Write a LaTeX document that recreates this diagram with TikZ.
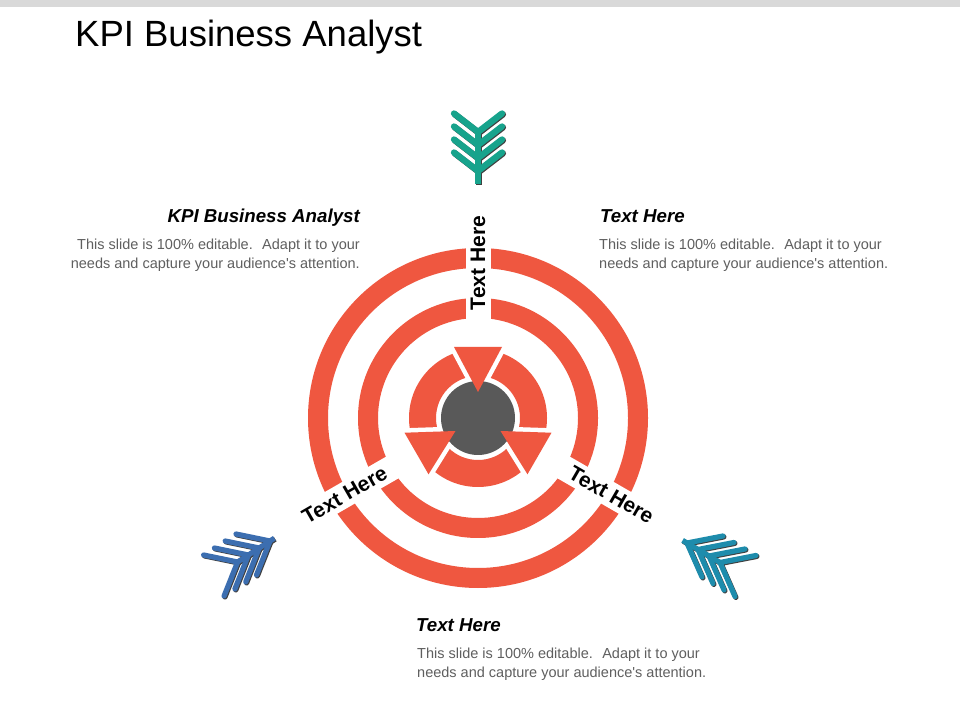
\documentclass[tikz,border=0pt]{standalone}
\usepackage{fontspec}
\setmainfont{Liberation Sans}
\usetikzlibrary{calc}
\definecolor{ringred}{RGB}{239,87,64}
\definecolor{coregray}{RGB}{89,89,89}
\definecolor{tealA}{RGB}{23,163,140}
\definecolor{blueA}{RGB}{60,110,176}
\definecolor{tealB}{RGB}{30,140,172}
\definecolor{bodygray}{RGB}{95,95,95}
\definecolor{topbar}{RGB}{217,217,217}
\newcommand\chevarrow[8]{%
  \coordinate (#1v0) at (#3);
  \coordinate (#1v1) at ($(#3)+(#4)$);
  \coordinate (#1v2) at ($(#3)+2*(#4)$);
  \coordinate (#1v3) at ($(#3)+3*(#4)$);
  \coordinate (#1tip) at ($(#3)-#7*(#4)$);
  \foreach \k in {0,...,3}{%
    \draw[chev, line width=#8, black!75] ($(#1v\k)+(#5)+(0.9,-0.9)$) -- ($(#1v\k)+(0.9,-0.9)$) -- ($(#1v\k)+(#6)+(0.9,-0.9)$);}
  \draw[chev, line width=#8, line cap=butt, black!75] ($(#1v3)+(0.9,-0.9)$) -- ($(#1tip)+(0.9,-0.9)$);
  \foreach \k in {0,...,3}{%
    \draw[chev, line width=#8, #2] ($(#1v\k)+(#5)$) -- (#1v\k) -- ($(#1v\k)+(#6)$);}
  \draw[chev, line width=#8, line cap=butt, #2] (#1v3) -- (#1tip);
}
\begin{document}
\begin{tikzpicture}[x=1pt,y=1pt,
  heading/.style={font=\fontsize{18.7}{22}\selectfont\bfseries\itshape, inner sep=0pt},
  body/.style={font=\fontsize{14.5}{19.5}\selectfont, text=bodygray, inner sep=0pt},
  ringlabel/.style={font=\fontsize{21}{25}\selectfont\bfseries, inner sep=0pt},
  chev/.style={line cap=round, line join=miter},
  ]
\useasboundingbox (0,0) rectangle (960,720);
\fill[white] (0,0) rectangle (960,720);
\fill[topbar] (0,713) rectangle (960,720);
\node[anchor=base west, font=\fontsize{36.5}{42}\selectfont, inner sep=0pt] (title) at (75,673.3) {KPI Business Analyst};

\coordinate (C) at (478,302);
% outer and middle rings
\fill[ringred, even odd rule] (C) circle[radius=170] (C) circle[radius=150]
  (C) circle[radius=120] (C) circle[radius=100];
\foreach \a in {90,210,330}{
  \begin{scope}[shift={(C)}, rotate=\a]
    \fill[white] (76,-12.5) rectangle (182,12.5);
  \end{scope}
}
% inner ring
\fill[ringred, even odd rule] (C) circle[radius=69] (C) circle[radius=42];
\foreach \a in {90,210,330}{
  \begin{scope}[shift={(C)}, rotate=\a]
    \filldraw[white, line width=9pt, line join=miter] (71,-24) -- (71,24) -- (26,0) -- cycle;
  \end{scope}
}
\fill[coregray] (C) circle[radius=37];
\foreach \a in {90,210,330}{
  \begin{scope}[shift={(C)}, rotate=\a]
    \fill[ringred] (71,-24) -- (71,24) -- (26,0) -- cycle;
  \end{scope}
}
% ring labels
\node[ringlabel, rotate=90] (lt) at ($(C)+(90:155)$) {Text Here};
\node[ringlabel, rotate=30] (ll) at ($(C)+(210:154)$) {Text Here};
\node[ringlabel, rotate=-30] (lr) at ($(C)+(330:154)$) {Text Here};

% text blocks
\node[heading, anchor=base east] (h1) at (360,497) {KPI Business Analyst};
\node[body, anchor=north east, align=right] (b1) at (360,481.5)
  {This slide is 100\% editable.~ Adapt it to your\\needs and capture your audience\textquotesingle s attention.};
\node[heading, anchor=base west] (h2) at (600,497) {Text Here};
\node[body, anchor=north west, align=left] (b2) at (599,481.5)
  {This slide is 100\% editable.~ Adapt it to your\\needs and capture your audience\textquotesingle s attention.};
\node[heading, anchor=base west] (h3) at (416,89) {Text Here};
\node[body, anchor=north west, align=left] (b3) at (417,72.5)
  {This slide is 100\% editable.~ Adapt it to your\\needs and capture your audience\textquotesingle s attention.};

% chevron arrows
\chevarrow{ta}{tealA}{478,549}{0,13}{-24,18.5}{24,18.5}{1}{6.3pt}
\chevarrow{la}{blueA}{270,179}{-10.8,-7}{-34,7}{-13.5,-34}{0.4}{5.2pt}
\chevarrow{ra}{tealB}{687,177}{11,-6.5}{36,7}{15,-34}{0.4}{5.2pt}
\end{tikzpicture}
\end{document}
